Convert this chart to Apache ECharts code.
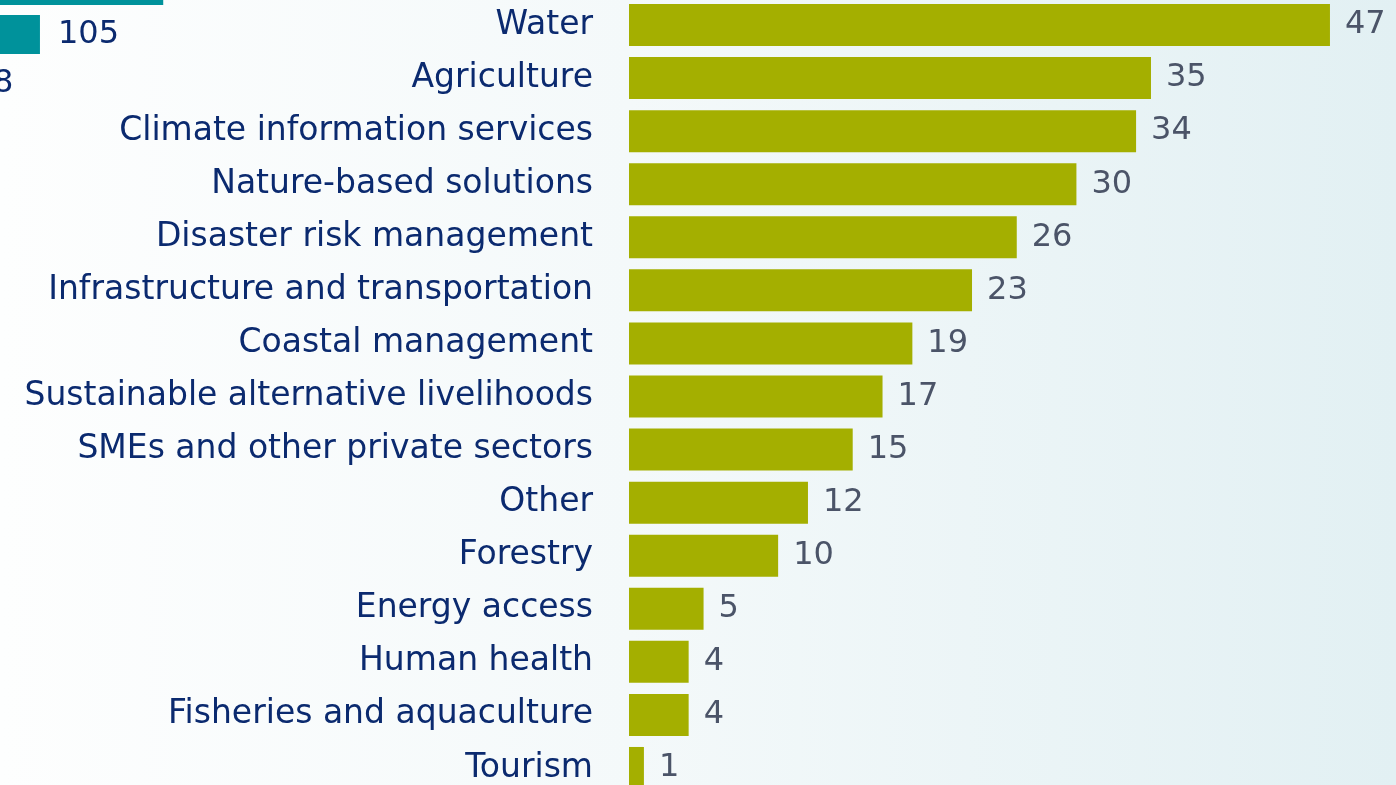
<!DOCTYPE html>
<html>
<head>
<meta charset="utf-8">
<script src="https://cdn.jsdelivr.net/npm/echarts@6/dist/echarts.min.js"></script>
<style>
html, body { margin: 0; padding: 0; }
#main { width: 1396px; height: 785px; background: linear-gradient(to right, #fdfefe 0%, #f4f9fa 45%, #e2f0f3 100%); }
</style>
</head>
<body>
<div id="main"></div>
<script>
// sectors, top to bottom
var categories = ['Water', 'Agriculture', 'Climate information services', 'Nature-based solutions',
  'Disaster risk management', 'Infrastructure and transportation', 'Coastal management',
  'Sustainable alternative livelihoods', 'SMEs and other private sectors', 'Other', 'Forestry',
  'Energy access', 'Human health', 'Fisheries and aquaculture', 'Tourism'];
var counts = [47, 35, 34, 30, 26, 23, 19, 17, 15, 12, 10, 5, 4, 4, 1];

// cut-off piece of the neighbouring chart (top left)
var sideCategories = ['a', 'b', 'c'];
var sideCounts = [289, 105, 8];

var font = 'DejaVu Sans';
var myChart = echarts.init(document.getElementById('main'));
var option = {
  animation: false,
  grid: [
    { left: 629, top: -1.5, width: 745.7, height: 796, outerBoundsMode: 'none' },
    { left: -30.4, top: -39, width: 268, height: 147, outerBoundsMode: 'none' }
  ],
  xAxis: [
    { gridIndex: 0, type: 'value', min: 0, max: 50, show: false },
    { gridIndex: 1, type: 'value', min: 0, max: 400, show: false }
  ],
  yAxis: [
    {
      gridIndex: 0, type: 'category', data: categories, inverse: true,
      axisLine: { show: false }, axisTick: { show: false },
      axisLabel: { margin: 36, color: '#0b2a6f', fontSize: 33, fontFamily: font }
    },
    { gridIndex: 1, type: 'category', data: sideCategories, inverse: true, show: false }
  ],
  series: [
    {
      type: 'bar', xAxisIndex: 0, yAxisIndex: 0, data: counts, barWidth: 42,
      itemStyle: { color: '#a4af00' },
      label: { show: true, position: 'right', distance: 15, color: '#4b5468', fontSize: 32, fontFamily: font }
    },
    {
      type: 'bar', xAxisIndex: 1, yAxisIndex: 1, data: sideCounts, barWidth: 39,
      itemStyle: { color: '#00929b' },
      label: { show: true, position: 'right', distance: 18, color: '#0b2a6f', fontSize: 32, fontFamily: font }
    }
  ]
};
myChart.setOption(option);
</script>
</body>
</html>
